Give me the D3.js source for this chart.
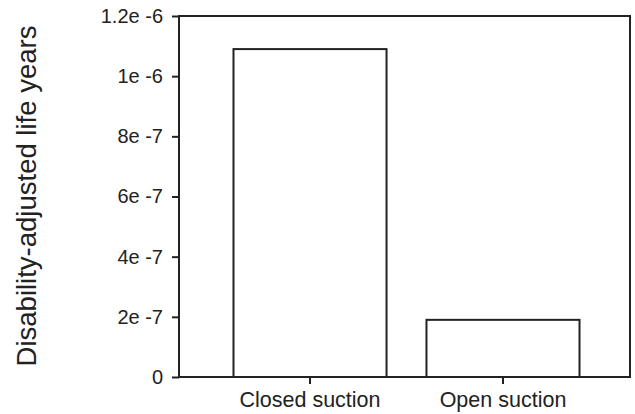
<!DOCTYPE html>
<html>
<head>
<meta charset="utf-8">
<script src="https://cdn.jsdelivr.net/npm/d3@7"></script>
<style>
  html, body { margin: 0; padding: 0; background: #fff; }
  svg { display: block; font-family: "Liberation Sans", Arial, Helvetica, sans-serif; }
</style>
</head>
<body>
<svg id="chart" width="635" height="414"></svg>
<script>
// Disability-adjusted life years per suction method
const categories = ["Closed suction", "Open suction"];
const dalyValues = [1.09e-6, 1.9e-7];
const yTicks = [0, 2e-7, 4e-7, 6e-7, 8e-7, 1e-6, 1.2e-6];
const yTickLabels = ["0", "2e -7", "4e -7", "6e -7", "8e -7", "1e -6", "1.2e -6"];
const yAxisTitle = "Disability-adjusted life years";

const svg = d3.select("#chart");
const plot = { left: 179, right: 630, top: 16, bottom: 377 };
const ink = "#222";
const fontFamily = "Liberation Sans, Arial, sans-serif";

const y = d3.scaleLinear().domain([0, 1.2e-6]).range([plot.bottom, plot.top]);
const x = d3.scaleBand()
  .domain(categories)
  .range([plot.left + 2, plot.right + 2])
  .paddingInner(0.207)
  .paddingOuter(0.272);

// Bars
svg.append("g")
  .selectAll("rect")
  .data(categories.map((c, i) => ({ c, v: dalyValues[i] })))
  .join("rect")
  .attr("x", d => x(d.c))
  .attr("y", d => y(d.v))
  .attr("width", x.bandwidth())
  .attr("height", d => y(0) - y(d.v))
  .attr("fill", "#fff")
  .attr("stroke", ink)
  .attr("stroke-width", 2);

// Frame around the plot area
svg.append("rect")
  .attr("x", plot.left)
  .attr("y", plot.top)
  .attr("width", plot.right - plot.left)
  .attr("height", plot.bottom - plot.top)
  .attr("fill", "none")
  .attr("stroke", ink)
  .attr("stroke-width", 2);

// Y axis
const yAxis = d3.axisLeft(y)
  .tickValues(yTicks)
  .tickFormat((d, i) => yTickLabels[i])
  .tickSize(7)
  .tickPadding(9);
const gy = svg.append("g").attr("transform", `translate(${plot.left},0)`).call(yAxis);
gy.select(".domain").remove();
gy.selectAll(".tick line").attr("stroke", ink).attr("stroke-width", 2);
gy.selectAll(".tick text").attr("fill", ink).attr("font-size", 20)
  .attr("font-family", fontFamily);

// X axis
const xAxis = d3.axisBottom(x).tickSize(7).tickPadding(8);
const gx = svg.append("g").attr("transform", `translate(0,${plot.bottom})`).call(xAxis);
gx.select(".domain").remove();
gx.selectAll(".tick line").attr("stroke", ink).attr("stroke-width", 2);
gx.selectAll(".tick text").attr("fill", ink).attr("font-size", 21.5)
  .attr("font-family", fontFamily);

// Y axis title
svg.append("text")
  .attr("transform", "translate(36,196) rotate(-90)")
  .attr("text-anchor", "middle")
  .attr("fill", ink)
  .attr("font-size", 27.5)
  .attr("font-family", fontFamily)
  .text(yAxisTitle);
</script>
</body>
</html>
